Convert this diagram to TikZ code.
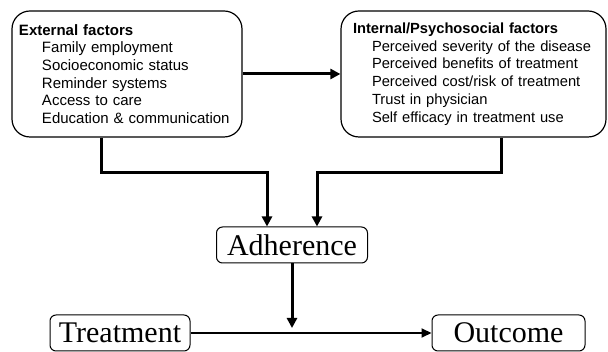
\documentclass[tikz,border=0pt]{standalone}
\usepackage{fontspec}
\setmainfont{Liberation Serif}
\setsansfont{Liberation Sans}
\usetikzlibrary{arrows.meta}
\hyphenpenalty=10000

\begin{document}
\begin{tikzpicture}[x=1pt,y=-1pt,
  factor/.style={draw,line width=1.2pt,rounded corners=18pt,inner ysep=0pt,
    minimum height=126pt,align=left},
  stage/.style={draw,line width=1pt,rounded corners=6pt,inner sep=0pt,
    minimum height=36pt,font=\fontsize{30}{30}\selectfont},
  link/.style={line width=3pt},
  linkarrow/.style={line width=3pt,-{Triangle[length=10pt,width=10pt]}}]

\useasboundingbox (0,0) rectangle (608,352);

% factor boxes
\node[factor,inner xsep=7pt,text width=216pt,
  font=\sffamily\fontsize{15}{17.7}\selectfont] (ext) at (127,74)
  {\textbf{External factors}\\
   \hspace*{23pt}Family employment\\
   \hspace*{23pt}Socioeconomic status\\
   \hspace*{23pt}Reminder systems\\
   \hspace*{23pt}Access to care\\
   \hspace*{23pt}Education \& communication};
\node[factor,inner xsep=12pt,text width=241pt,
  font=\sffamily\fontsize{14.7}{17.7}\selectfont] (int) at (473.5,74)
  {\textbf{Internal/Psychosocial factors}\\
   \hspace*{19pt}Perceived severity of the disease\\
   \hspace*{19pt}Perceived benefits of treatment\\
   \hspace*{19pt}Perceived cost/risk of treatment\\
   \hspace*{19pt}Trust in physician\\
   \hspace*{19pt}Self efficacy in treatment use};

% stages
\node[stage,minimum width=151pt] (adh) at (292,245) {Adherence};
\node[stage,minimum width=140pt] (trt) at (120,333) {Treatment};
\node[stage,minimum width=153pt] (out) at (508.5,333) {Outcome};

\coordinate (jl) at (267,173);
\coordinate (jr) at (317,173);
\coordinate (mid) at (adh.south |- trt.east);

\draw[linkarrow] (ext) -- (int);
\draw[linkarrow] ([xshift=-26pt]ext.south) |- (jl) -- (jl |- adh.north);
\draw[linkarrow] ([xshift=27.5pt]int.south) |- (jr) -- (jr |- adh.north);
\draw[linkarrow,shorten >=5pt] (adh) -- (mid);
\draw[line width=2pt,-{Triangle[length=10pt,width=9pt]}] (trt) -- (out);
\end{tikzpicture}
\end{document}
